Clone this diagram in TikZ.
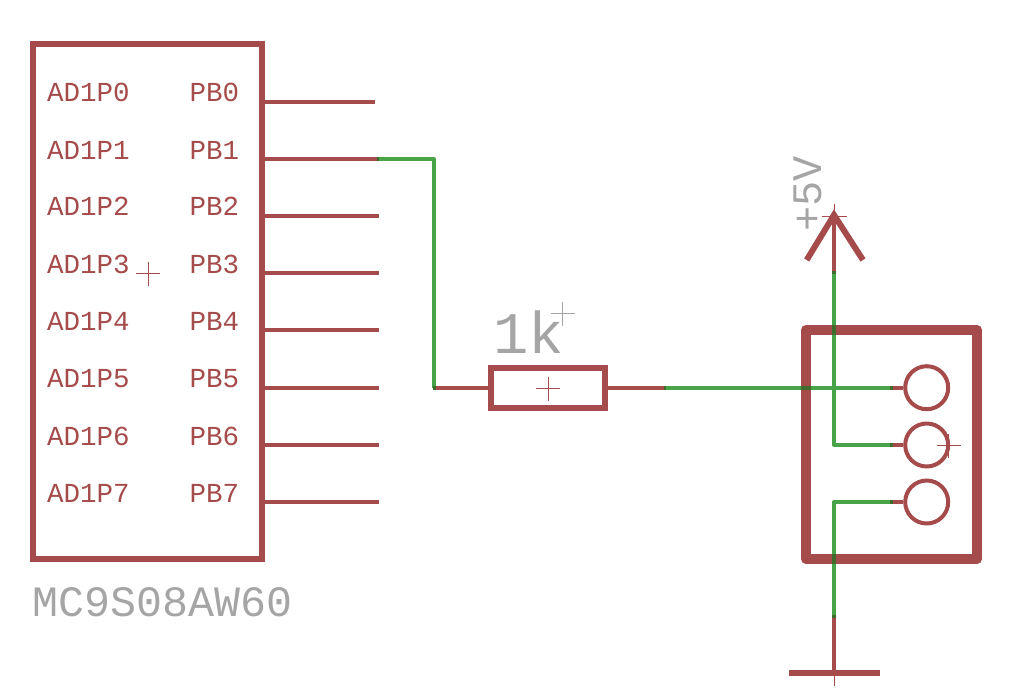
\documentclass[tikz,border=0pt]{standalone}
\usepackage{fontspec}
\newfontfamily\vecfont{Liberation Mono}
\definecolor{partred}{HTML}{A54B4B}
\definecolor{wiregreen}{HTML}{49A349}
\definecolor{labgray}{HTML}{A5A5A5}
\definecolor{overlap}{HTML}{3F6B2C}
\tikzset{
  thickpart/.style={draw=partred,line width=5.6pt,line join=miter},
  heavypart/.style={draw=partred,line width=10pt,line join=round},
  pinline/.style={draw=partred,line width=4pt},
  thinpart/.style={draw=partred,line width=4pt},
  wire/.style={draw=wiregreen,line width=4pt,line join=round},
  joint/.style={draw=overlap,line width=4pt},
  crossmark/.style={draw=partred,line width=1pt},
  graymark/.style={draw=labgray,line width=1pt},
  pinlabel/.style={inner sep=0pt,anchor=base west,text=partred,font=\vecfont\fontsize{27.5}{30}\selectfont},
  namelabel/.style={inner sep=0pt,anchor=base west,text=labgray,font=\vecfont\fontsize{43.3}{46}\selectfont},
  valuelabel/.style={inner sep=0pt,anchor=base west,text=labgray,font=\vecfont\fontsize{59}{64}\selectfont},
  pwrlabel/.style={inner sep=0pt,anchor=base west,rotate=90,text=labgray,font=\vecfont\fontsize{42}{46}\selectfont}
}
\begin{document}
\begin{tikzpicture}[x=1pt,y=-1pt]
\useasboundingbox (0,0) rectangle (1012,694);
% chip
\draw[thickpart] (33,44) rectangle (262,558.7);
\foreach \n/\y/\e in {0/101.7/375,1/159/377,2/215.7/379,3/273/379,4/330/379,5/387.7/379,6/445/379,7/502/379}{
  \coordinate (pin\n) at (262,\y);
  \coordinate (end\n) at (\e,\y);
  \draw[pinline] (pin\n) -- (end\n);
  \node[pinlabel] (ad\n) at (47,\y) {AD1P\n};
  \node[pinlabel] (pb\n) at (189.5,\y) {PB\n};
}
\node[namelabel] (chipname) at (32.5,616.7) {MC9S08AW60};
\draw[crossmark] (136,273.7) -- (160,273.7) (148.3,261.7) -- (148.3,285.7);
% resistor
\coordinate (ra) at (434,387.7);
\coordinate (rb) at (664,387.7);
\draw[thickpart] (491,368) rectangle (605,407.7);
\draw[thinpart] (ra) -- (491,387.7) (605,387.7) -- (rb);
\node[valuelabel] (rval) at (493,353.3) {1k};
\draw[crossmark] (536.3,388.5) -- (560.3,388.5) (548.3,376.5) -- (548.3,400.5);
\draw[graymark] (550.7,313.7) -- (574.7,313.7) (562.7,301.7) -- (562.7,325.7);
% connector
\draw[heavypart] (806,330) rectangle (977,559);
\foreach \n/\y in {1/387.7,2/445,3/502}{
  \coordinate (cw\n) at (891,\y);
  \node[circle,draw=partred,line width=4pt,minimum size=43pt,inner sep=0pt] (pad\n) at (926.7,\y) {};
  \draw[thinpart] (cw\n) -- (pad\n.west);
}
\draw[crossmark] (936.7,445.5) -- (960.7,445.5) (948.7,433.5) -- (948.7,457.5);
% supply
\coordinate (vcc) at (834,215);
\coordinate (vccw) at (834,272.7);
\draw[thickpart,line width=6pt] (806.7,260) -- (vcc) -- (863,260);
\draw[thinpart] (vcc) -- (vccw);
\draw[crossmark] (822,216) -- (846.5,216) (834.5,204) -- (834.5,228);
\node[pwrlabel] (vlab) at (821,232) {+5V};
% ground
\coordinate (gw) at (834,616);
\coordinate (gnd) at (834,673);
\draw[thinpart] (gw) -- (gnd);
\draw[thickpart,line width=5.8pt] (789,673) -- (880,673);
\draw[crossmark] (834.5,673) -- (834.5,685.5);
% wires
\draw[wire] (end1) -- (434,159) -- (ra);
\draw[wire] (rb) -- (cw1);
\draw[wire] (vccw) -- (834,445) -- (cw2);
\draw[wire] (cw3) -- (834,502) -- (gw);
% overlaps
\draw[joint] (377,159) -- (379,159);
\draw[joint] (432.5,387.7) -- (435.5,387.7);
\draw[joint] (664,387.7) -- (666,387.7);
\foreach \n in {1,2,3}{\draw[joint] ([xshift=-1.5pt]cw\n) -- ([xshift=1.5pt]cw\n);}
\draw[joint] (834,271.2) -- (834,274.2);
\draw[joint] (834,614.5) -- (834,617.5);
\draw[joint] (834,325) -- (834,335);
\draw[joint] (834,554) -- (834,564);
\draw[joint] (801,387.7) -- (811,387.7);
\end{tikzpicture}
\end{document}
